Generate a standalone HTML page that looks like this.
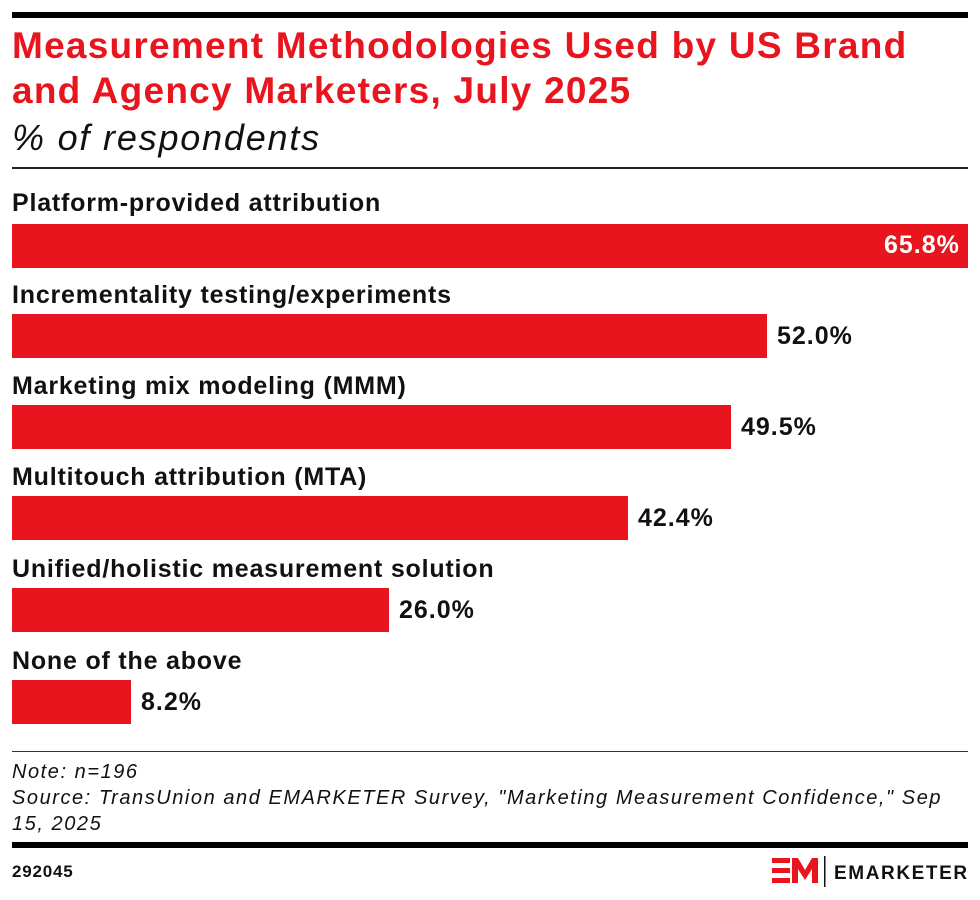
<!DOCTYPE html>
<html><head><style>
body{margin:0;width:980px;height:900px;background:#fff;font-family:"Liberation Sans",sans-serif;position:relative;overflow:hidden}
div{position:absolute;white-space:nowrap}
.t{left:12px;color:#e8141e;font-weight:bold;font-size:37px;letter-spacing:1.25px;line-height:44px}
.lab{left:12px;font-size:25px;font-weight:bold;color:#111;letter-spacing:0.8px}
.bar{left:12px;height:44px;background:#e8141e}
.val{font-size:25px;font-weight:bold;color:#111;letter-spacing:1px}
.n{font-size:20px;font-style:italic;color:#111;left:12px;letter-spacing:1.55px}
</style></head><body>
<div style="left:12px;top:12px;width:956px;height:6px;background:#000"></div>
<div class="t" style="top:24px">Measurement Methodologies Used by US Brand</div>
<div class="t" style="top:69px">and Agency Marketers, July 2025</div>
<div style="left:12px;top:117px;font-size:36px;font-style:italic;color:#111;letter-spacing:1.8px">% of respondents</div>
<div style="left:12px;top:167px;width:956px;height:2px;background:#222"></div>

<div class="lab" style="top:189px">Platform-provided attribution</div>
<div class="bar" style="top:224px;width:956px"></div>
<div class="val" style="left:884px;top:231px;color:#fff">65.8%</div>

<div class="lab" style="top:281px">Incrementality testing/experiments</div>
<div class="bar" style="top:314px;width:755px"></div>
<div class="val" style="left:777px;top:322px">52.0%</div>

<div class="lab" style="top:372px">Marketing mix modeling (MMM)</div>
<div class="bar" style="top:405px;width:719px"></div>
<div class="val" style="left:741px;top:413px">49.5%</div>

<div class="lab" style="top:463px">Multitouch attribution (MTA)</div>
<div class="bar" style="top:496px;width:616px"></div>
<div class="val" style="left:638px;top:504px">42.4%</div>

<div class="lab" style="top:555px">Unified/holistic measurement solution</div>
<div class="bar" style="top:588px;width:377px"></div>
<div class="val" style="left:399px;top:596px">26.0%</div>

<div class="lab" style="top:647px">None of the above</div>
<div class="bar" style="top:680px;width:119px"></div>
<div class="val" style="left:141px;top:688px">8.2%</div>

<div style="left:12px;top:751px;width:956px;height:1px;background:#333"></div>
<div class="n" style="top:761px">Note: n=196</div>
<div class="n" style="top:787px">Source: TransUnion and EMARKETER Survey, "Marketing Measurement Confidence," Sep</div>
<div class="n" style="top:813px">15, 2025</div>
<div style="left:12px;top:842px;width:956px;height:6px;background:#000"></div>
<div style="left:12px;top:862px;font-size:17px;font-weight:bold;color:#111;letter-spacing:0.8px">292045</div>
<svg style="position:absolute;left:772px;top:856px" width="200" height="32">
<g fill="#e8141e">
<rect x="0" y="2" width="18" height="5"/><rect x="0" y="12" width="18" height="5"/><rect x="0" y="22" width="18" height="5"/>
<polygon points="20,27 20,2 26,2 33,14 40,2 46,2 46,27 40,27 40,13 33,24 26,13 26,27"/>
</g>
<rect x="52" y="0" width="1.5" height="31" fill="#111"/>
<text x="62" y="23" font-family="Liberation Sans" font-weight="bold" font-size="19" letter-spacing="1.6" fill="#111">EMARKETER</text>
</svg>
</body></html>
